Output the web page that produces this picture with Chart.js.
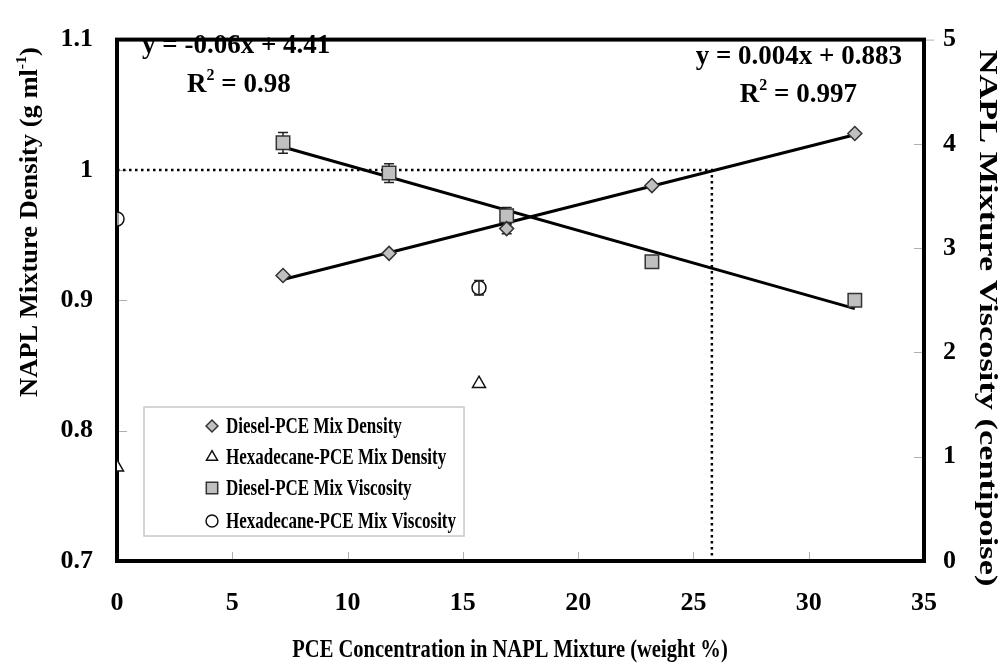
<!DOCTYPE html>
<html>
<head>
<meta charset="utf-8">
<script src="https://cdn.jsdelivr.net/npm/chart.js@4/dist/chart.umd.min.js"></script>
<style>
  html, body { margin: 0; padding: 0; background: #fff; }
</style>
</head>
<body>
<canvas id="myChart" width="1001" height="667"></canvas>
<script>
// PCE concentration (weight %) for the diesel mixtures
const dieselPce = [7.2, 11.8, 16.9, 23.2, 32.0];
const dieselDensity = [0.919, 0.936, 0.955, 0.988, 1.028];
const dieselDensityErr = [0, 0, 0.004, 0, 0];
const dieselViscosity = [4.01, 3.72, 3.31, 2.87, 2.50];
const dieselViscosityErr = [0.1, 0.09, 0.08, 0, 0];

// hexadecane mixtures
const hexPce = [0, 15.7];
const hexDensity = [0.772, 0.836];
const hexViscosity = [3.28, 2.62];
const hexViscosityErr = [0, 0.07];

// fitted lines (end points)
const densityFitX = [7.2, 32.0];
const densityFitY = [0.916, 1.027];
const viscosityFitX = [7.2, 32.0];
const viscosityFitY = [3.97, 2.42];

// dotted guide at density = 1
const guideX = [0, 25.8, 25.8];
const guideY = [1.0, 1.0, 0.7];

const seriesNames = ['Diesel-PCE Mix Density', 'Hexadecane-PCE Mix Density', 'Diesel-PCE Mix Viscosity', 'Hexadecane-PCE Mix Viscosity'];
const viscosityEq = ['y = -0.06x + 4.41', '0.98'];
const densityEq = ['y = 0.004x + 0.883', '0.997'];

const SERIF = '"Liberation Serif", "DejaVu Serif", serif';
const GRAY = '#c0c0c0';

const pts = (xs, ys) => xs.map((x, i) => ({ x: x, y: ys[i] }));

// draws text pieces (some superscript), stretched by sx along the text direction
function richText(ctx, parts, x, y, size, align, sx) {
    sx = sx || 1;
    let total = 0;
    parts.forEach(p => {
        ctx.font = 'bold ' + (p.sup ? Math.round(size * 0.6) : size) + 'px ' + SERIF;
        p.w = ctx.measureText(p.t).width;
        total += p.w;
    });
    let cx = align === 'center' ? -total / 2 : (align === 'right' ? -total : 0);
    ctx.save();
    ctx.translate(x, y);
    ctx.scale(sx, 1);
    ctx.textAlign = 'left';
    ctx.textBaseline = 'middle';
    parts.forEach(p => {
        ctx.font = 'bold ' + (p.sup ? Math.round(size * 0.6) : size) + 'px ' + SERIF;
        ctx.fillText(p.t, cx, p.sup ? -size * 0.35 : 0);
        cx += p.w;
    });
    ctx.restore();
    return total * sx;
}

function errBars(chart, xs, ys, errs, axisId) {
    const ctx = chart.ctx;
    const sx = chart.scales.x, sy = chart.scales[axisId];
    ctx.save();
    ctx.strokeStyle = '#222';
    ctx.lineWidth = 1.5;
    xs.forEach((x, i) => {
        if (!errs[i]) return;
        const px = sx.getPixelForValue(x);
        const top = sy.getPixelForValue(ys[i] + errs[i]);
        const bot = sy.getPixelForValue(ys[i] - errs[i]);
        ctx.beginPath();
        ctx.moveTo(px, top); ctx.lineTo(px, bot);
        ctx.moveTo(px - 5, top); ctx.lineTo(px + 5, top);
        ctx.moveTo(px - 5, bot); ctx.lineTo(px + 5, bot);
        ctx.stroke();
    });
    ctx.restore();
}

const decor = {
    id: 'decor',
    beforeDatasetsDraw(chart) {
        const ctx = chart.ctx, a = chart.chartArea;
        const sx = chart.scales.x, sy = chart.scales.y, sy2 = chart.scales.y2;
        ctx.save();
        // small inner tick marks
        ctx.strokeStyle = '#b0b0b0';
        ctx.lineWidth = 1;
        ctx.beginPath();
        sx.ticks.forEach(t => {
            if (t.value <= 0 || t.value >= 35) return;
            const px = Math.round(sx.getPixelForValue(t.value)) + 0.5;
            ctx.moveTo(px, a.bottom); ctx.lineTo(px, a.bottom - 9);
        });
        sy.ticks.forEach(t => {
            const py = Math.round(sy.getPixelForValue(t.value)) + 0.5;
            ctx.moveTo(a.left, py); ctx.lineTo(a.left + 10, py);
        });
        sy2.ticks.forEach(t => {
            const py = Math.round(sy2.getPixelForValue(t.value)) + 0.5;
            ctx.moveTo(a.right, py); ctx.lineTo(a.right - 10, py);
        });
        ctx.moveTo(a.right, a.top + 0.5); ctx.lineTo(a.right + 10, a.top + 0.5);
        ctx.stroke();
        // frame
        ctx.strokeStyle = '#000';
        ctx.lineWidth = 4;
        ctx.strokeRect(a.left, a.top, a.right - a.left, a.bottom - a.top);
        ctx.restore();
        errBars(chart, dieselPce, dieselViscosity, dieselViscosityErr, 'y2');
        errBars(chart, dieselPce, dieselDensity, dieselDensityErr, 'y');
    },
    afterDatasetsDraw(chart) {
        const ctx = chart.ctx, a = chart.chartArea;
        errBars(chart, hexPce, hexViscosity, hexViscosityErr, 'y2');
        ctx.save();
        ctx.fillStyle = '#000';

        // equations
        richText(ctx, [{ t: viscosityEq[0] }], 142, 46, 27, 'left');
        richText(ctx, [{ t: 'R' }, { t: '2', sup: true }, { t: ' = ' + viscosityEq[1] }], 187, 85, 27, 'left');
        richText(ctx, [{ t: densityEq[0] }], 902, 57, 27, 'right');
        richText(ctx, [{ t: 'R' }, { t: '2', sup: true }, { t: ' = ' + densityEq[1] }], 857, 95, 27, 'right');

        // legend
        const rows = [426, 457, 488, 521];
        const ds = chart.data.datasets;
        const lsx = 0.74;
        ctx.font = 'bold 23px ' + SERIF;
        let maxW = 0;
        seriesNames.forEach(n => { maxW = Math.max(maxW, ctx.measureText(n).width * lsx); });
        const boxW = 226 + maxW + 8 - 144;
        ctx.strokeStyle = '#c8c8c8';
        ctx.lineWidth = 1.5;
        ctx.fillStyle = '#fff';
        ctx.fillRect(144, 407, boxW, 129);
        ctx.strokeRect(144, 407, boxW, 129);
        seriesNames.forEach((n, i) => {
            const d = ds[i];
            ctx.fillStyle = d.backgroundColor;
            ctx.strokeStyle = d.borderColor;
            ctx.lineWidth = 1.5;
            Chart.helpers.drawPoint(ctx, { pointStyle: d.pointStyle, radius: d.pointRadius * 0.85, borderWidth: 1.5 }, 212, rows[i]);
            ctx.fillStyle = '#000';
            richText(ctx, [{ t: n }], 226, rows[i] + 1, 23, 'left', lsx);
        });

        // axis titles
        ctx.fillStyle = '#000';
        richText(ctx, [{ t: 'PCE Concentration in NAPL Mixture (weight %)' }], 510, 650, 26, 'center', 0.79);
        ctx.save();
        ctx.translate(31, 222);
        ctx.rotate(-Math.PI / 2);
        richText(ctx, [{ t: 'NAPL Mixture Density (g ml' }, { t: '-1', sup: true }, { t: ')' }], 0, 0, 25, 'center', 1.06);
        ctx.restore();
        ctx.save();
        ctx.translate(987, 318);
        ctx.rotate(Math.PI / 2);
        richText(ctx, [{ t: 'NAPL Mixture Viscosity (centipoise)' }], 0, 0, 26, 'center', 1.32);
        ctx.restore();
        ctx.restore();
    }
};

const ctx = document.getElementById('myChart').getContext('2d');
const tickFont = { family: SERIF, size: 26, weight: 'bold' };

new Chart(ctx, {
    type: 'scatter',
    data: {
        datasets: [{
            label: seriesNames[0],
            data: pts(dieselPce, dieselDensity),
            yAxisID: 'y',
            pointStyle: 'rectRot',
            pointRadius: 7,
            backgroundColor: GRAY,
            borderColor: '#333',
            borderWidth: 1.5
        }, {
            label: seriesNames[1],
            data: pts(hexPce, hexDensity),
            yAxisID: 'y',
            pointStyle: 'triangle',
            pointRadius: 7.5,
            backgroundColor: '#fff',
            borderColor: '#111',
            borderWidth: 1.5
        }, {
            label: seriesNames[2],
            data: pts(dieselPce, dieselViscosity),
            yAxisID: 'y2',
            pointStyle: 'rect',
            pointRadius: 9.5,
            backgroundColor: GRAY,
            borderColor: '#333',
            borderWidth: 1.5
        }, {
            label: seriesNames[3],
            data: pts(hexPce, hexViscosity),
            yAxisID: 'y2',
            pointStyle: 'circle',
            pointRadius: 7,
            backgroundColor: 'rgba(255,255,255,0.6)',
            borderColor: '#111',
            borderWidth: 1.5
        }, {
            label: 'density fit',
            data: pts(densityFitX, densityFitY),
            yAxisID: 'y',
            showLine: true,
            pointRadius: 0,
            borderColor: '#000',
            borderWidth: 3
        }, {
            label: 'viscosity fit',
            data: pts(viscosityFitX, viscosityFitY),
            yAxisID: 'y2',
            showLine: true,
            pointRadius: 0,
            borderColor: '#000',
            borderWidth: 3
        }, {
            label: 'guide',
            data: pts(guideX, guideY),
            yAxisID: 'y',
            showLine: true,
            pointRadius: 0,
            borderColor: '#000',
            borderWidth: 2.5,
            borderDash: [2.5, 3.5]
        }]
    },
    options: {
        responsive: false,
        animation: false,
        devicePixelRatio: 1,
        layout: { padding: { top: 23, left: 0, right: 0, bottom: 0 } },
        plugins: { legend: { display: false }, tooltip: { enabled: false } },
        scales: {
            x: {
                type: 'linear', min: 0, max: 35,
                ticks: { stepSize: 5, font: tickFont, color: '#000', padding: 27, maxRotation: 0 },
                grid: { display: false, drawTicks: false },
                border: { display: false },
                afterFit: s => { s.height = 106; }
            },
            y: {
                position: 'left', min: 0.7, max: 1.1,
                ticks: { stepSize: 0.1, font: tickFont, color: '#000', padding: 24,
                    callback: v => String(Number(v.toFixed(2))) },
                grid: { display: false, drawTicks: false },
                border: { display: false },
                afterFit: s => { s.width = 117; }
            },
            y2: {
                position: 'right', min: 0, max: 5,
                ticks: { stepSize: 1, font: tickFont, color: '#000', padding: 19 },
                grid: { display: false, drawTicks: false },
                border: { display: false },
                afterFit: s => { s.width = 77; }
            }
        }
    },
    plugins: [decor]
});
</script>
</body>
</html>
